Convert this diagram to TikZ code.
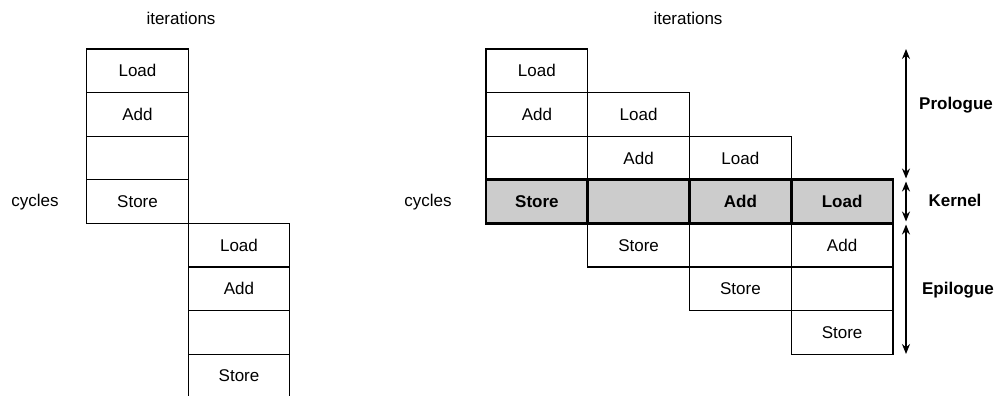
\documentclass[tikz,border=0pt]{standalone}
\usepackage{fontspec}
\setmainfont{Liberation Sans}
\usetikzlibrary{arrows.meta}
\begin{document}
\begin{tikzpicture}[x=1pt,y=-1pt,
  cell/.style={draw=black, line width=1.2pt, rectangle, inner sep=0pt,
    minimum width=101.5pt, minimum height=43.6pt,
    font=\fontsize{17}{20}\selectfont},
  kcell/.style={cell, fill=black!20, line width=2.8pt,
    font=\fontsize{17}{20}\selectfont\bfseries},
  lbl/.style={font=\fontsize{17}{20}\selectfont},
  phase/.style={font=\fontsize{17}{20}\selectfont\bfseries},
  span/.style={draw=black, line width=1.2pt, {Stealth[length=10pt,width=8pt]}-{Stealth[length=10pt,width=8pt]}}
]
\useasboundingbox (0,0) rectangle (999,396);

% ---- sequential schedule ----
\node[lbl] (itA) at (181,18) {iterations};
\node[lbl] (cyA) at (35,202) {cycles};

\node[cell] (a1) at (137.5,70.8)  {Load};
\node[cell] (a2) at (137.5,114.4) {Add};
\node[cell] (a3) at (137.5,158.0) {};
\node[cell] (a4) at (137.5,201.6) {Store};

\node[cell] (b1) at (239,245.2) {Load};
\node[cell] (b2) at (239,288.8) {Add};
\node[cell] (b3) at (239,332.4) {};
\node[cell] (b4) at (239,376.0) {Store};

% ---- software-pipelined schedule ----
\node[lbl] (itB) at (688,18) {iterations};
\node[lbl] (cyB) at (428,202) {cycles};

% iteration 1
\node[cell, minimum width=101.75pt] (p11) at (536.9,70.8)  {Load};
\node[cell, minimum width=101.75pt] (p12) at (536.9,114.4) {Add};
\node[cell, minimum width=101.75pt] (p13) at (536.9,158.0) {};
% iteration 2
\node[cell, minimum width=101.75pt] (p21) at (638.6,114.4) {Load};
\node[cell, minimum width=101.75pt] (p22) at (638.6,158.0) {Add};
\node[cell, minimum width=101.75pt] (p24) at (638.6,245.2) {Store};
% iteration 3
\node[cell, minimum width=101.75pt] (p31) at (740.4,158.0) {Load};
\node[cell, minimum width=101.75pt] (p33) at (740.4,245.2) {};
\node[cell, minimum width=101.75pt] (p34) at (740.4,288.8) {Store};
% iteration 4
\node[cell, minimum width=101.75pt] (p42) at (842.1,245.2) {Add};
\node[cell, minimum width=101.75pt] (p43) at (842.1,288.8) {};
\node[cell, minimum width=101.75pt] (p44) at (842.1,332.4) {Store};

% kernel row
\node[kcell, minimum width=101.75pt] (k1) at (536.9,201.6) {Store};
\node[kcell, minimum width=101.75pt] (k2) at (638.6,201.6) {};
\node[kcell, minimum width=101.75pt] (k3) at (740.4,201.6) {Add};
\node[kcell, minimum width=101.75pt] (k4) at (842.1,201.6) {Load};

% phase extents
\coordinate (pt) at (906,49);
\coordinate (pb) at (906,178.5);
\coordinate (kt) at (906,181.5);
\coordinate (kb) at (906,221.5);
\coordinate (et) at (906,224.5);
\coordinate (eb) at (906,354);
\draw[span] (pt) -- (pb);
\draw[span] (kt) -- (kb);
\draw[span] (et) -- (eb);

\node[phase] (pro) at (956,105) {Prologue};
\node[phase] (ker) at (955,200) {Kernel};
\node[phase] (epi) at (958,290) {Epilogue};
\end{tikzpicture}
\end{document}
